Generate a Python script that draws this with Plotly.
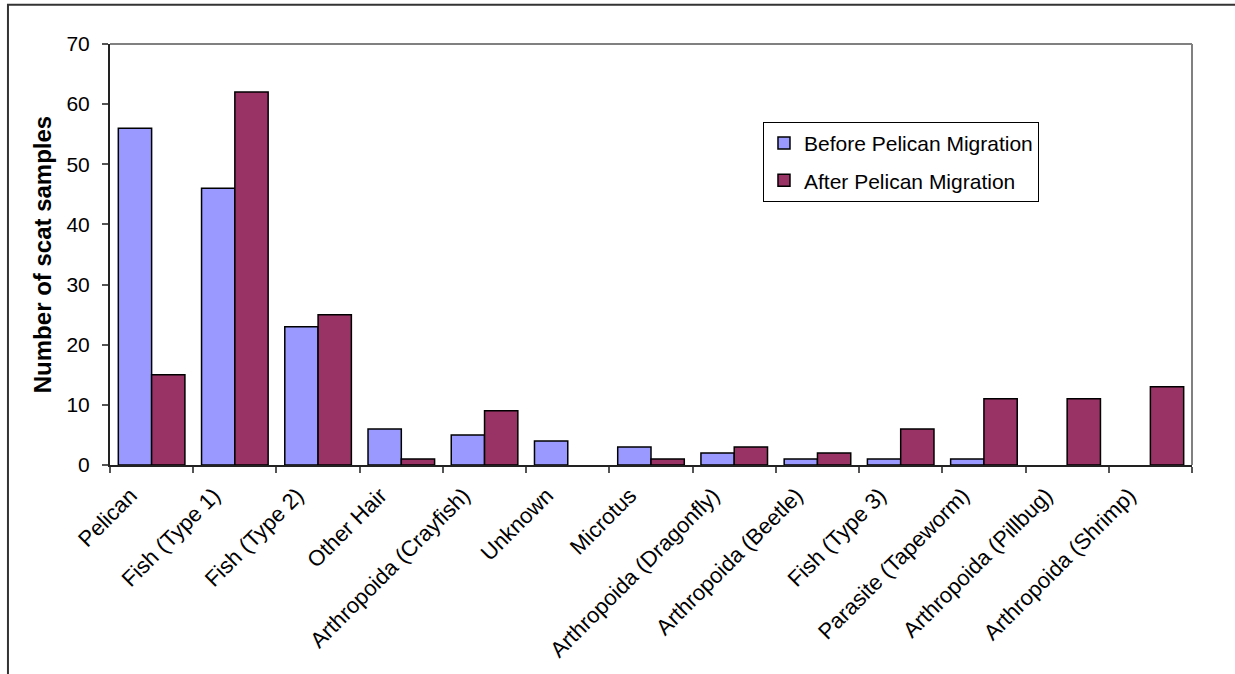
import plotly.graph_objects as go

categories = ["Pelican", "Fish (Type 1)", "Fish (Type 2)", "Other Hair", "Arthropoida (Crayfish)",
              "Unknown", "Microtus", "Arthropoida (Dragonfly)", "Arthropoida (Beetle)",
              "Fish (Type 3)", "Parasite (Tapeworm)", "Arthropoida (Pillbug)", "Arthropoida (Shrimp)"]
before = [56, 46, 23, 6, 5, 4, 3, 2, 1, 1, 1, 0, 0]
after = [15, 62, 25, 1, 9, 0, 1, 3, 2, 6, 11, 11, 13]
y_ticks = [0, 10, 20, 30, 40, 50, 60, 70]

FONT = "Liberation Sans, Arial, sans-serif"


def drawn(values):
    # zero-height bars are not drawn in the original chart
    return [v if v != 0 else None for v in values]


fig = go.Figure()
fig.add_trace(go.Bar(x=categories, y=drawn(before), name="Before Pelican Migration",
                     marker=dict(color="#9999FF", line=dict(color="black", width=1.5)),
                     legendgroup="a"))
fig.add_trace(go.Bar(x=categories, y=drawn(after), name="After Pelican Migration",
                     marker=dict(color="#993366", line=dict(color="black", width=1.5)),
                     legendgroup="b"))

fig.update_layout(
    width=1235, height=674,
    margin=dict(l=110, r=43, t=44, b=206),
    paper_bgcolor="white", plot_bgcolor="white",
    font=dict(family=FONT, size=21, color="black"),
    barmode="group", bargap=0.2, bargroupgap=0,
    showlegend=True,
    legend=dict(x=0.6035, y=0.815, xanchor="left", yanchor="top",
                bordercolor="black", borderwidth=1, bgcolor="white",
                font=dict(family=FONT, size=21), traceorder="grouped",
                tracegroupgap=7),
    xaxis=dict(type="category", tickangle=-45, showline=True, linecolor="#222222", linewidth=2,
               ticks="outside", ticklen=6, tickwidth=1.5, tickcolor="#555555",
               tickson="boundaries", showgrid=False, tickfont=dict(size=22),
               ticklabelstandoff=7, ticklabelshift=-21),
    yaxis=dict(range=[0, 70], tickvals=y_ticks, showline=True, linecolor="#222222", linewidth=2,
               ticks="outside", ticklen=6, tickwidth=1.5, tickcolor="#555555",
               showgrid=False, zeroline=False, tickfont=dict(size=21), ticklabelstandoff=8,
               title=dict(text="<b>Number of scat samples</b>", font=dict(size=24), standoff=8)),
    shapes=[
        dict(type="line", xref="paper", yref="paper", x0=0, x1=1, y0=1, y1=1,
             line=dict(color="#808080", width=2)),
        dict(type="line", xref="paper", yref="paper", x0=1, x1=1, y0=0, y1=1,
             line=dict(color="#808080", width=2)),
        dict(type="rect", xref="paper", yref="paper", x0=-0.0943, x1=1.08, y0=-0.6, y1=1.0931,
             line=dict(color="#333333", width=2)),
    ],
)

fig.write_html("out.html")
